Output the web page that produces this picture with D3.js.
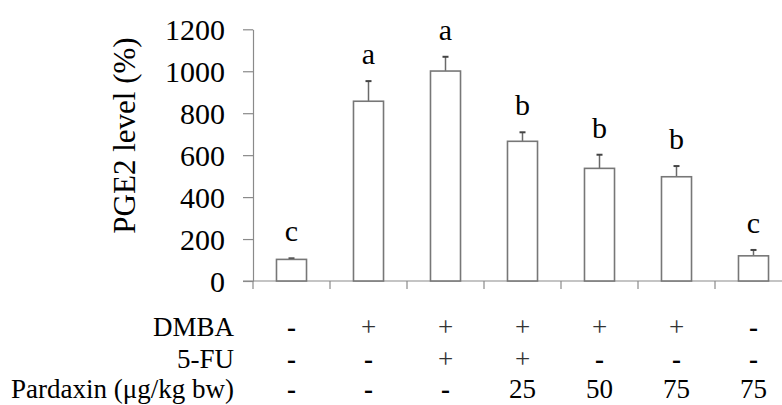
<!DOCTYPE html>
<html>
<head>
<meta charset="utf-8">
<script src="https://cdn.jsdelivr.net/npm/d3@7"></script>
<style>
  body { margin: 0; background: #fff; }
  svg { display: block; }
</style>
</head>
<body>
<svg id="chart"></svg>
<script>
// groups (one bar each) and their treatment rows
const groups = ['Control', 'DMBA', 'DMBA+5-FU', 'DMBA+5-FU+P25', 'DMBA+P50', 'DMBA+P75', 'P75']
const values = [103, 857, 1001, 666, 537, 497, 120]
const errors = [5, 96, 68, 43, 65, 51, 28]
const letters = ['c', 'a', 'a', 'b', 'b', 'b', 'c']
const yTicks = [0, 200, 400, 600, 800, 1000, 1200]

const rowLabels = ['DMBA', '5-FU', 'Pardaxin (\u03bcg/kg bw)']
const dmbaRow = ['-', '+', '+', '+', '+', '+', '-']
const fuRow = ['-', '-', '+', '+', '-', '-', '-']
const pardaxinRow = ['-', '-', '-', '25', '50', '75', '75']

const serif = '"Liberation Serif"'

const drawChart = () => {
    const width = 782
    const height = 405
    const left = 253
    const right = 792
    const top = 29.3
    const bottom = 281

    const svg = d3.select('#chart')
        .attr('width', width)
        .attr('height', height)

    const x = d3.scaleBand()
        .domain(groups)
        .range([left, right])
        .paddingInner(0.61)
        .paddingOuter(0.305)

    const y = d3.scaleLinear()
        .domain([0, 1200])
        .range([bottom, top])

    const gap = (x.step() - x.bandwidth()) / 2

    // y axis
    const yAxis = svg.append('g')
        .attr('transform', `translate(${left},0)`)
        .call(d3.axisLeft(y).tickValues(yTicks).tickFormat(d3.format('d'))
            .tickSize(10).tickSizeOuter(0).tickPadding(18))
    yAxis.select('.domain').attr('stroke', '#8a8a8a').attr('stroke-width', 1.2)
    yAxis.selectAll('.tick line').attr('stroke', '#8a8a8a').attr('stroke-width', 1.2)
    yAxis.selectAll('.tick text')
        .style('font-family', serif)
        .style('font-size', '30px')
        .attr('fill', '#000')
        .attr('dy', '0.34em')

    // x axis line and ticks between groups
    svg.append('line')
        .attr('x1', left - 10).attr('x2', right)
        .attr('y1', y(0)).attr('y2', y(0))
        .attr('stroke', '#8a8a8a').attr('stroke-width', 1.2)

    svg.selectAll('.xtick')
        .data(groups)
        .join('line')
        .attr('class', 'xtick')
        .attr('x1', d => x(d) - gap).attr('x2', d => x(d) - gap)
        .attr('y1', y(0)).attr('y2', y(0) + 8)
        .attr('stroke', '#8a8a8a').attr('stroke-width', 1.2)

    // y title
    svg.append('text')
        .attr('transform', `translate(135,135.5) rotate(-90)`)
        .attr('text-anchor', 'middle')
        .style('font-family', serif)
        .style('font-size', '31px')
        .text('PGE2 level (%)')

    // error bars
    svg.selectAll('.err')
        .data(groups)
        .join('line')
        .attr('class', 'err')
        .attr('x1', d => x(d) + x.bandwidth() / 2)
        .attr('x2', d => x(d) + x.bandwidth() / 2)
        .attr('y1', (d, i) => y(values[i]))
        .attr('y2', (d, i) => y(values[i] + errors[i]))
        .attr('stroke', '#6a6a6a').attr('stroke-width', 1.5)

    svg.selectAll('.cap')
        .data(groups)
        .join('line')
        .attr('class', 'cap')
        .attr('x1', d => x(d) + x.bandwidth() / 2 - 3)
        .attr('x2', d => x(d) + x.bandwidth() / 2 + 3)
        .attr('y1', (d, i) => y(values[i] + errors[i]))
        .attr('y2', (d, i) => y(values[i] + errors[i]))
        .attr('stroke', '#444').attr('stroke-width', 2)

    // bars
    svg.selectAll('.bar')
        .data(groups)
        .join('rect')
        .attr('class', 'bar')
        .attr('x', d => x(d))
        .attr('y', (d, i) => y(values[i]))
        .attr('width', x.bandwidth())
        .attr('height', (d, i) => y(0) - y(values[i]))
        .attr('fill', '#fff')
        .attr('stroke', '#777')
        .attr('stroke-width', 1.6)

    // significance letters
    svg.selectAll('.letter')
        .data(groups)
        .join('text')
        .attr('class', 'letter')
        .attr('x', d => x(d) + x.bandwidth() / 2)
        .attr('y', (d, i) => y(values[i] + errors[i]) - 17)
        .attr('text-anchor', 'middle')
        .style('font-family', serif)
        .style('font-size', '30px')
        .text((d, i) => letters[i])

    // treatment table under the axis
    const rows = [dmbaRow, fuRow, pardaxinRow]
    const rowY = [336, 368, 398]

    svg.selectAll('.rowLabel')
        .data(rowLabels)
        .join('text')
        .attr('class', 'rowLabel')
        .attr('x', 234)
        .attr('y', (d, i) => rowY[i])
        .attr('text-anchor', 'end')
        .style('font-family', serif)
        .style('font-size', '27px')
        .text(d => d)

    rows.forEach((row, r) => {
        svg.selectAll('.cell' + r)
            .data(row)
            .join('text')
            .attr('class', 'cell' + r)
            .attr('x', (d, i) => x(groups[i]) + x.bandwidth() / 2)
            .attr('y', rowY[r])
            .attr('text-anchor', 'middle')
            .style('font-family', serif)
            .style('font-size', '27px')
            .style('font-weight', d => d === '-' ? 'bold' : 'normal')
            .attr('fill', d => d === '+' ? '#333' : '#000')
            .text(d => d)
    })
}

drawChart()
</script>
</body>
</html>
